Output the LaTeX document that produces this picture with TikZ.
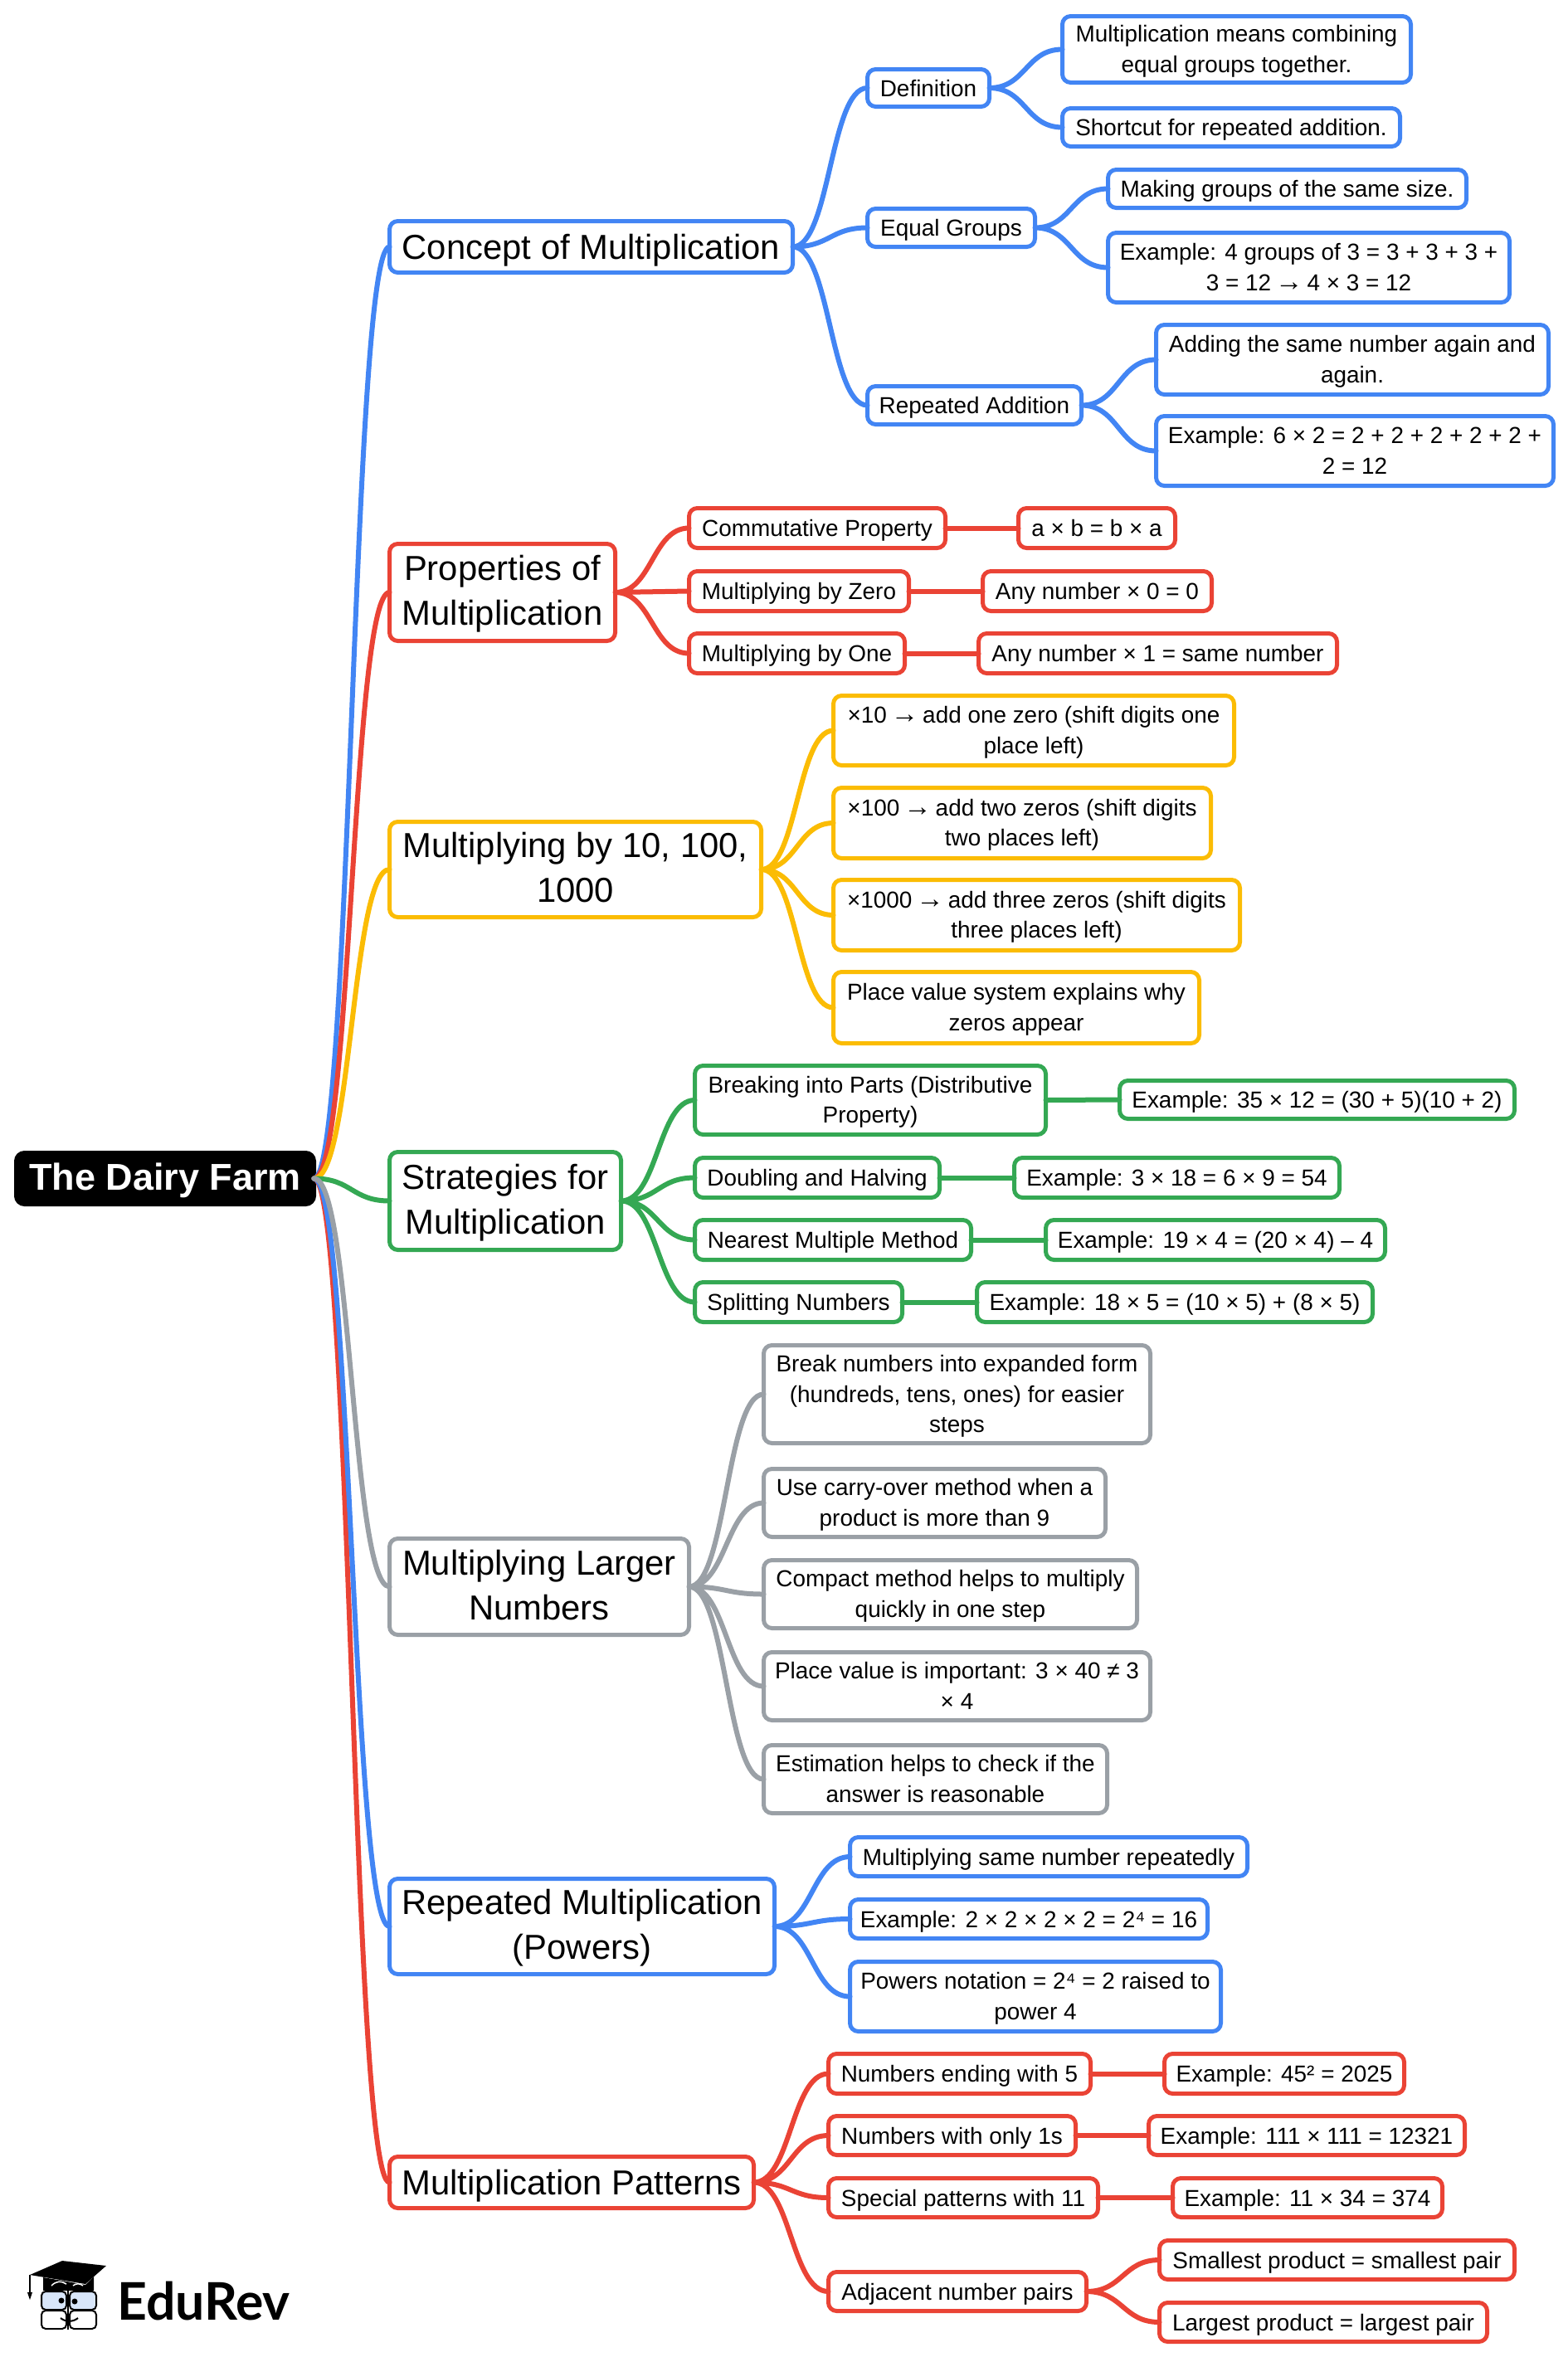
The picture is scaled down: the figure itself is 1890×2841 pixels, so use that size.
\documentclass[tikz,border=0pt]{standalone}
\usepackage{fontspec}
\setmainfont{Liberation Sans}
\newfontfamily\logofont{Lato}
\usetikzlibrary{calc}

\definecolor{cblue}{HTML}{4285F4}
\definecolor{cred}{HTML}{EA4335}
\definecolor{cyellow}{HTML}{FBBC04}
\definecolor{cgreen}{HTML}{34A853}
\definecolor{cgray}{HTML}{9AA0A6}
\definecolor{cglass}{HTML}{D8E6FA}

\newcommand{\longarrow}{\makebox[1em][c]{\scalebox{1.2}{→}}}

\tikzset{
	box/.style={rectangle,draw,fill=white,line width=5pt,rounded corners=10pt,inner sep=0pt,outer sep=0pt,
				align=center,text=black},
	span/.style args={#1,#2,#3,#4}{at={({(#1+#3)/2},{(#2+#4)/2})},minimum width={(#3-#1-3)*1pt},minimum height={(#4-#2-3)*1pt}},
	topic/.style={box,text height=45pt,text depth=14.4pt,font=\fontsize{41.8}{54}\selectfont},
	topictwo/.style={topic,text height=90pt,text depth=11pt},
	leaf/.style={box,text height=31pt,text depth=11pt,font=\fontsize{27.9}{36.4}\selectfont},
	leaftwo/.style={leaf,text height=60pt,text depth=4.6pt},
	leafthree/.style={leaf,text height=96pt,text depth=4.2pt},
	link/.style={line width=6pt,line cap=round,
				to path={let \p1=(\tikztostart), \p2=(\tikztotarget) in
				.. controls ({(\x1+\x2)/2},\y1) and ({(\x1+\x2)/2},\y2) .. (\tikztotarget)}}
}

\begin{document}
\begin{tikzpicture}[x=1pt,y=-1pt]
\useasboundingbox (0,0) rectangle (1890,2841);

\node [box,text height=44pt,text depth=15.4pt,fill=black,draw=black,text=white,font=\bfseries\fontsize{45}{54}\selectfont,span={18,1388,380,1453}] (root) {The Dairy Farm};

\node [topic,draw=cblue,span={468,265,957,330}] (concept) {Concept of Multiplication};
\node [leaf,draw=cblue,span={1044,82,1194,130}] (definition) {Definition};
\node [leaftwo,draw=cblue,span={1279,18,1702,101}] (defa) {Multiplication means combining\\equal groups together.};
\node [leaf,draw=cblue,span={1279,129,1689,178}] (defb) {Shortcut for repeated addition.};
\node [leaf,draw=cblue,span={1044,250,1249,299}] (equal) {Equal Groups};
\node [leaf,draw=cblue,span={1334,203,1769,252}] (equala) {Making groups of the same size.};
\node [leaftwo,draw=cblue,span={1334,279,1821,366}] (equalb) {Example: 4 groups of 3 = 3 + 3 + 3 +\\3 = 12 \longarrow{} 4 × 3 = 12};
\node [leaf,draw=cblue,span={1044,464,1305,513}] (repeated) {Repeated Addition};
\node [leaftwo,draw=cblue,span={1392,390,1868,477}] (repa) {Adding the same number again and\\again.};
\node [leaftwo,draw=cblue,span={1392,500,1874,587}] (repb) {Example: 6 × 2 = 2 + 2 + 2 + 2 + 2 +\\2 = 12};

\node [topictwo,draw=cred,span={468,654,743,774}] (props) {Properties of\\Multiplication};
\node [leaf,draw=cred,span={829,611,1141,662}] (commut) {Commutative Property};
\node [leaf,draw=cred,span={1226,611,1418,662}] (commuta) {a × b = b × a};
\node [leaf,draw=cred,span={829,687,1097,738}] (byzero) {Multiplying by Zero};
\node [leaf,draw=cred,span={1183,687,1462,738}] (byzeroa) {Any number × 0 = 0};
\node [leaf,draw=cred,span={829,762,1092,813}] (byone) {Multiplying by One};
\node [leaf,draw=cred,span={1178,762,1613,813}] (byonea) {Any number × 1 = same number};

\node [topictwo,draw=cyellow,span={468,989,919,1107}] (tens) {Multiplying by 10, 100,\\1000};
\node [leaftwo,draw=cyellow,span={1003,837,1489,924}] (tensa) {×10 \longarrow{} add one zero (shift digits one\\place left)};
\node [leaftwo,draw=cyellow,span={1003,948,1461,1036}] (tensb) {×100 \longarrow{} add two zeros (shift digits\\two places left)};
\node [leaftwo,draw=cyellow,span={1003,1059,1496,1147}] (tensc) {×1000 \longarrow{} add three zeros (shift digits\\three places left)};
\node [leaftwo,draw=cyellow,span={1003,1170,1447,1259}] (tensd) {Place value system explains why\\zeros appear};

\node [topictwo,draw=cgreen,span={468,1387,750,1508}] (strat) {Strategies for\\Multiplication};
\node [leaftwo,draw=cgreen,span={836,1283,1262,1369}] (parts) {Breaking into Parts (Distributive\\Property)};
\node [leaf,draw=cgreen,span={1348,1301,1827,1350}] (partsa) {Example: 35 × 12 = (30 + 5)(10 + 2)};
\node [leaf,draw=cgreen,span={836,1394,1134,1445}] (halving) {Doubling and Halving};
\node [leaf,draw=cgreen,span={1221,1394,1616,1445}] (halvinga) {Example: 3 × 18 = 6 × 9 = 54};
\node [leaf,draw=cgreen,span={836,1469,1172,1520}] (nearest) {Nearest Multiple Method};
\node [leaf,draw=cgreen,span={1259,1469,1671,1520}] (nearesta) {Example: 19 × 4 = (20 × 4) – 4};
\node [leaf,draw=cgreen,span={836,1544,1089,1595}] (split) {Splitting Numbers};
\node [leaf,draw=cgreen,span={1176,1544,1656,1595}] (splita) {Example: 18 × 5 = (10 × 5) + (8 × 5)};

\node [topictwo,draw=cgray,span={468,1853,832,1972}] (larger) {Multiplying Larger\\Numbers};
\node [leafthree,draw=cgray,span={919,1620,1388,1741}] (largera) {Break numbers into expanded form\\(hundreds, tens, ones) for easier\\steps};
\node [leaftwo,draw=cgray,span={919,1769,1334,1854}] (largerb) {Use carry-over method when a\\product is more than 9};
\node [leaftwo,draw=cgray,span={919,1879,1372,1964}] (largerc) {Compact method helps to multiply\\quickly in one step};
\node [leaftwo,draw=cgray,span={919,1990,1388,2075}] (largerd) {Place value is important: 3 × 40 ≠ 3\\× 4};
\node [leaftwo,draw=cgray,span={919,2102,1336,2187}] (largere) {Estimation helps to check if the\\answer is reasonable};

\node [topictwo,draw=cblue,span={468,2263,935,2381}] (powers) {Repeated Multiplication\\(Powers)};
\node [leaf,draw=cblue,span={1023,2213,1505,2263}] (powersa) {Multiplying same number repeatedly};
\node [leaf,draw=cblue,span={1023,2288,1457,2338}] (powersb) {Example: 2 × 2 × 2 × 2 = 2⁴ = 16};
\node [leaftwo,draw=cblue,span={1023,2363,1473,2450}] (powersc) {Powers notation = 2⁴ = 2 raised to\\power 4};

\node [topic,draw=cred,span={468,2598,910,2663}] (patterns) {Multiplication Patterns};
\node [leaf,draw=cred,span={997,2474,1316,2525}] (ending) {Numbers ending with 5};
\node [leaf,draw=cred,span={1402,2474,1694,2525}] (endinga) {Example: 45² = 2025};
\node [leaf,draw=cred,span={997,2549,1298,2599}] (ones) {Numbers with only 1s};
\node [leaf,draw=cred,span={1383,2549,1767,2599}] (onesa) {Example: 111 × 111 = 12321};
\node [leaf,draw=cred,span={997,2624,1325,2674}] (eleven) {Special patterns with 11};
\node [leaf,draw=cred,span={1412,2624,1740,2674}] (elevena) {Example: 11 × 34 = 374};
\node [leaf,draw=cred,span={997,2737,1311,2787}] (adjacent) {Adjacent number pairs};
\node [leaf,draw=cred,span={1396,2699,1827,2749}] (adjacenta) {Smallest product = smallest pair};
\node [leaf,draw=cred,span={1396,2774,1794,2824}] (adjacentb) {Largest product = largest pair};

\draw [link,cblue] (root.east) to (concept.west);
\draw [link,cred] (root.east) to (props.west);
\draw [link,cyellow] (root.east) to (tens.west);
\draw [link,cgreen] (root.east) to (strat.west);
\draw [link,cred] (root.east) to (patterns.west);
\draw [link,cblue] (root.east) to (powers.west);
\draw [link,cgray] (root.east) to (larger.west);

\draw [link,cblue] (concept.east) to (definition.west) (concept.east) to (equal.west) (concept.east) to (repeated.west);
\draw [link,cblue] (definition.east) to (defa.west) (definition.east) to (defb.west);
\draw [link,cblue] (equal.east) to (equala.west) (equal.east) to (equalb.west);
\draw [link,cblue] (repeated.east) to (repa.west) (repeated.east) to (repb.west);

\draw [link,cred] (props.east) to (commut.west) (props.east) to (byzero.west) (props.east) to (byone.west);
\draw [link,cred] (commut.east) to (commuta.west);
\draw [link,cred] (byzero.east) to (byzeroa.west);
\draw [link,cred] (byone.east) to (byonea.west);

\draw [link,cyellow] (tens.east) to (tensa.west) (tens.east) to (tensb.west) (tens.east) to (tensc.west) (tens.east) to (tensd.west);

\draw [link,cgreen] (strat.east) to (parts.west) (strat.east) to (halving.west) (strat.east) to (nearest.west) (strat.east) to (split.west);
\draw [link,cgreen] (parts.east) to (partsa.west);
\draw [link,cgreen] (halving.east) to (halvinga.west);
\draw [link,cgreen] (nearest.east) to (nearesta.west);
\draw [link,cgreen] (split.east) to (splita.west);

\draw [link,cgray] (larger.east) to (largera.west) (larger.east) to (largerb.west) (larger.east) to (largerc.west) (larger.east) to (largerd.west) (larger.east) to (largere.west);

\draw [link,cblue] (powers.east) to (powersa.west) (powers.east) to (powersb.west) (powers.east) to (powersc.west);

\draw [link,cred] (patterns.east) to (ending.west) (patterns.east) to (ones.west) (patterns.east) to (eleven.west) (patterns.east) to (adjacent.west);
\draw [link,cred] (ending.east) to (endinga.west);
\draw [link,cred] (ones.east) to (onesa.west);
\draw [link,cred] (eleven.east) to (elevena.west);
\draw [link,cred] (adjacent.east) to (adjacenta.west) (adjacent.east) to (adjacentb.west);

% logo
\fill [black] (36,2742) -- (75,2725) -- (128,2731) -- (103,2753) -- cycle;
\fill [black] (52,2745) -- (103,2754) -- (113,2744) -- (113,2761) -- (52,2761) -- cycle;
\draw [line width=1.5pt] (36,2742) -- (36,2763);
\fill [black] (33,2763) -- (39,2763) -- (36,2772) -- cycle;
\draw [white,line width=1.5pt] (62,2755) .. controls (68,2749) and (74,2749) .. (80,2753) (88,2755) .. controls (92,2752) and (96,2752) .. (100,2755);
\draw [line width=2pt,rounded corners=5pt] (50,2785) rectangle (80,2807);
\draw [line width=2pt,rounded corners=5pt] (84,2785) rectangle (116,2807);
\draw [line width=2pt,fill=cglass,rounded corners=5pt] (50,2762) rectangle (80,2784);
\draw [line width=2pt,fill=cglass,rounded corners=5pt] (84,2762) rectangle (116,2784);
\draw [line width=2pt] (82,2760) -- (82,2808);
\fill (74,2773) circle (3.5pt) (90,2774) circle (3.5pt);
\draw [line width=2pt] (73,2794) .. controls (79,2799) and (88,2799) .. (94,2794);
\node [inner sep=0pt,anchor=base west,font=\logofont\bfseries\fontsize{62.5}{70}\selectfont] (logo) at (141,2796) {EduRev};
\end{tikzpicture}
\end{document}
